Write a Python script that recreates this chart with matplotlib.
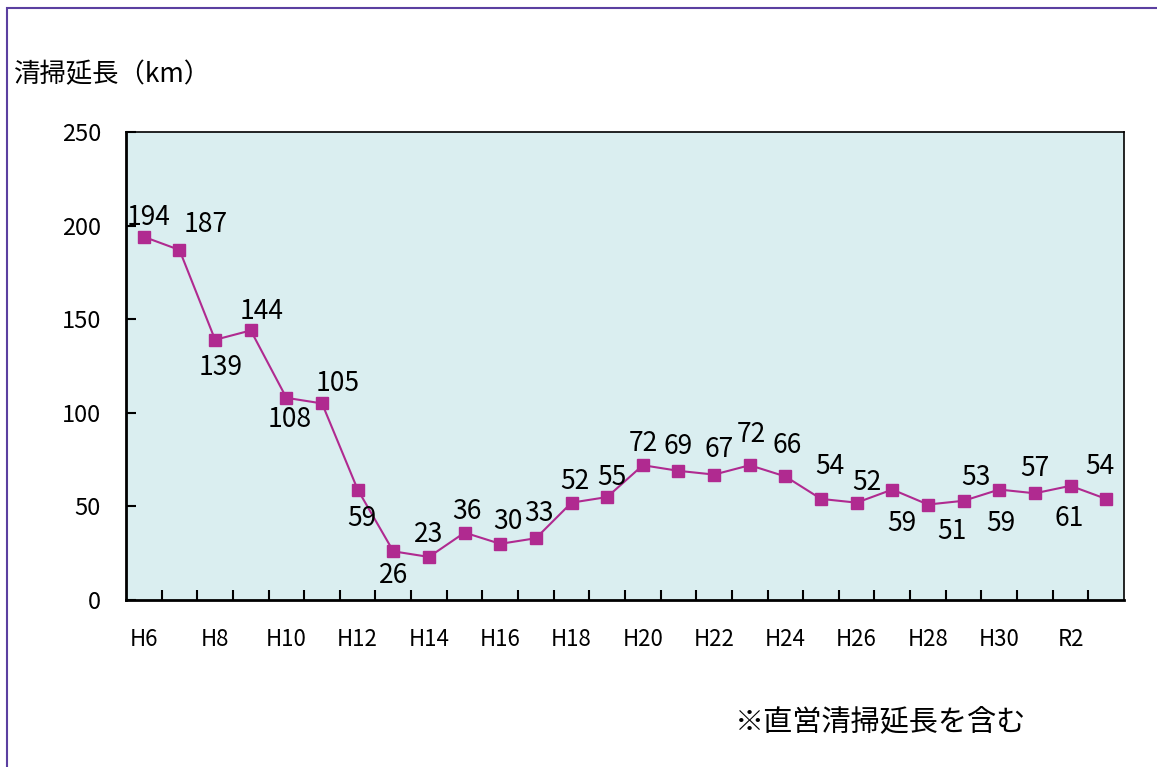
import matplotlib
matplotlib.use("Agg")
import matplotlib.pyplot as plt
from matplotlib.patches import Rectangle

plt.rcParams['font.family'] = ['Noto Sans CJK JP', 'DejaVu Sans']

# 年度と清掃延長 (km)
years = ['H6', 'H7', 'H8', 'H9', 'H10', 'H11', 'H12', 'H13', 'H14', 'H15',
         'H16', 'H17', 'H18', 'H19', 'H20', 'H21', 'H22', 'H23', 'H24', 'H25',
         'H26', 'H27', 'H28', 'H29', 'H30', 'H31', 'R2', 'R3']
length_km = [194, 187, 139, 144, 108, 105, 59, 26, 23, 36,
             30, 33, 52, 55, 72, 69, 67, 72, 66, 54,
             52, 59, 51, 53, 59, 57, 61, 54]

# ラベル位置 (px): 上なら正、下なら負
label_offsets = [(5, 19), (26, 25), (6, -28), (11, 19), (3, -22), (16, 20), (4, -29),
                 (0, -24), (0, 22), (2, 21), (8, 22), (3, 25), (3, 21), (5, 20),
                 (1, 22), (0, 24), (5, 25), (2, 31), (2, 31), (9, 32), (10, 20),
                 (9, -34), (24, -27), (12, 23), (2, -34), (0, 25), (-1, -33), (-6, 32)]

W, H = 1157, 767
fig = plt.figure(figsize=(W / 100, H / 100), dpi=100)

# 外枠
fig.patches.append(Rectangle((7 / W, -0.05), 1.2, 1 - 8 / H + 0.05, transform=fig.transFigure,
                             fill=False, edgecolor='#5b3fa0', linewidth=1.5))

ax = fig.add_axes([126 / W, 1 - 600 / H, 998 / W, 468 / H])
ax.set_facecolor('#daeef0')

x = list(range(len(years)))
ax.plot(x, length_km, color='#b02a90', linewidth=1.5, marker='s', markersize=9,
        markerfacecolor='#b02a90', markeredgecolor='#b02a90', zorder=3)

for xi, v, (dx, dy) in zip(x, length_km, label_offsets):
    ax.annotate(str(v), (xi, v), xytext=(dx, dy), textcoords='offset pixels',
                ha='center', va='center', fontsize=19, color='black')

ax.set_xlim(-0.5, len(years) - 0.5)
ax.set_ylim(0, 250)
ax.set_yticks([0, 50, 100, 150, 200, 250])
ax.set_xticks(x[::2])
ax.set_xticklabels(years[::2])
ax.set_xticks([i + 0.5 for i in range(len(years) - 1)], minor=True)
ax.tick_params(axis='x', which='major', length=0, pad=20, labelsize=16)
ax.tick_params(axis='x', which='minor', direction='in', length=7, width=1.5)
ax.tick_params(axis='y', direction='in', length=7, width=1.5, pad=18, labelsize=17)
for s in ax.spines.values():
    s.set_linewidth(1.2)
ax.spines['left'].set_linewidth(2)
ax.spines['bottom'].set_linewidth(2)

fig.text(14 / W, 1 - 75 / H, '清掃延長（km）', fontsize=19, va='center', ha='left')
fig.text(735 / W, 1 - 722 / H, '※直営清掃延長を含む', fontsize=21, va='center', ha='left')

fig.savefig('out.png', dpi=100)
